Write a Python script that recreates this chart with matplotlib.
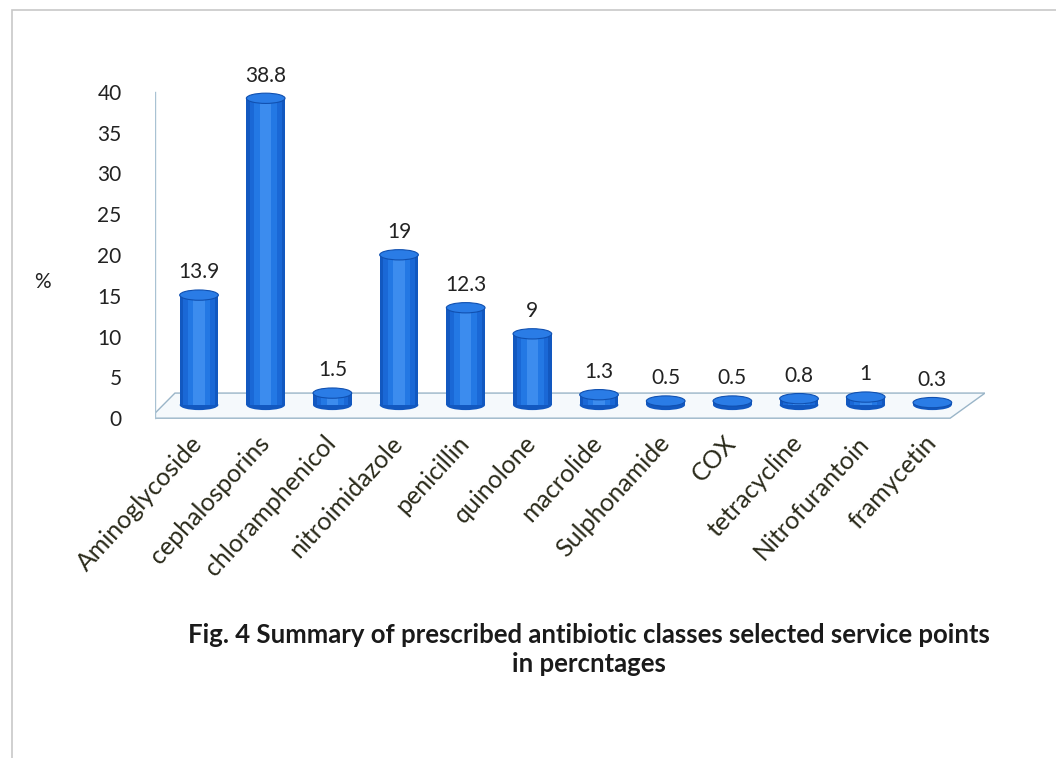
import matplotlib.pyplot as plt
import matplotlib.transforms as mtransforms
from matplotlib.patches import Ellipse, Polygon, Rectangle

# data
classes = ['Aminoglycoside', 'cephalosporins', 'chloramphenicol', 'nitroimidazole',
           'penicillin', 'quinolone', 'macrolide', 'Sulphonamide', 'COX',
           'tetracycline', 'Nitrofurantoin', 'framycetin']
percent = [13.9, 38.8, 1.5, 19, 12.3, 9, 1.3, 0.5, 0.5, 0.8, 1, 0.3]
yticks = [0, 5, 10, 15, 20, 25, 30, 35, 40]

plt.rcParams['font.family'] = ['Lato', 'DejaVu Sans']

fig = plt.figure(figsize=(10.56, 7.58), dpi=100)
rect = [0.1468, 0.4356, 0.786, 0.4538]
ax = fig.add_axes(rect)
ax.set_xlim(-0.66, 11.79)
ax.set_ylim(-1.2, 41)

# floor of the 3d box
floor = Polygon([[-0.006, 0.028], [0.958, 0.028], [1.0, 0.101], [0.024, 0.101]],
                closed=True, transform=ax.transAxes, facecolor='#f5f9fc',
                edgecolor='#9ab5c8', lw=1, zorder=0)
ax.add_patch(floor)
ax.plot([0, 0], [0.028, 0.975], transform=ax.transAxes, color='#a9c2d3', lw=1, zorder=0)

for s in ax.spines.values():
    s.set_visible(False)
ax.set_yticks(yticks)
ax.set_yticklabels([str(t) for t in yticks], fontsize=15, color='#222222')
ax.tick_params(axis='y', length=0, pad=24)
ax.set_xticks(range(len(classes)))
ax.set_xticklabels(classes, rotation=47.5, ha='right', rotation_mode='anchor',
                   fontsize=18, color='#2a2a1a')
ax.tick_params(axis='x', length=0, pad=4)
shift = mtransforms.ScaledTranslation(-0.09, 0.02, fig.dpi_scale_trans)
for lab in ax.get_xticklabels():
    lab.set_transform(lab.get_transform() + shift)

# bars sit on the floor, slightly different depth scale than the wall ticks
ax2 = fig.add_axes(rect)
ax2.set_xlim(-0.66, 11.79)
ax2.set_ylim(-2.89, 40.63)
ax2.axis('off')

w = 0.58
eh = 1.3
xs = range(len(classes))
shades = [(1.0, '#1258c0'), (0.82, '#1a68d6'), (0.58, '#2378e4'), (0.3, '#3c8cee')]
for frac, col in shades:
    ax2.bar(xs, percent, width=w * frac, color=col, zorder=2)
for x, v in zip(xs, percent):
    ax2.add_patch(Ellipse((x, 0), w, eh, facecolor='#1258c0', zorder=1.9))
    ax2.add_patch(Ellipse((x, v), w, eh, facecolor='#2a7ce6', edgecolor='#1050b0',
                          lw=0.8, zorder=3))
    ax2.text(x, v + 1.6, f'{v:g}', ha='center', va='bottom', fontsize=15, color='#222222')

fig.text(0.04, 0.628, '%', fontsize=15, color='#222222', ha='center', va='center')
fig.text(0.558, 0.143, 'Fig. 4 Summary of prescribed antibiotic classes selected service points\nin percntages',
         ha='center', va='center', fontsize=18.5, fontweight='bold', color='#1a1a1a',
         linespacing=1.25)

# scan frame
fig.patches.append(Rectangle((0.011, -0.05), 1.2, 1.037, transform=fig.transFigure,
                             fill=False, edgecolor='#c8c8c8', lw=1.2))

fig.savefig('out.png', dpi=100)
